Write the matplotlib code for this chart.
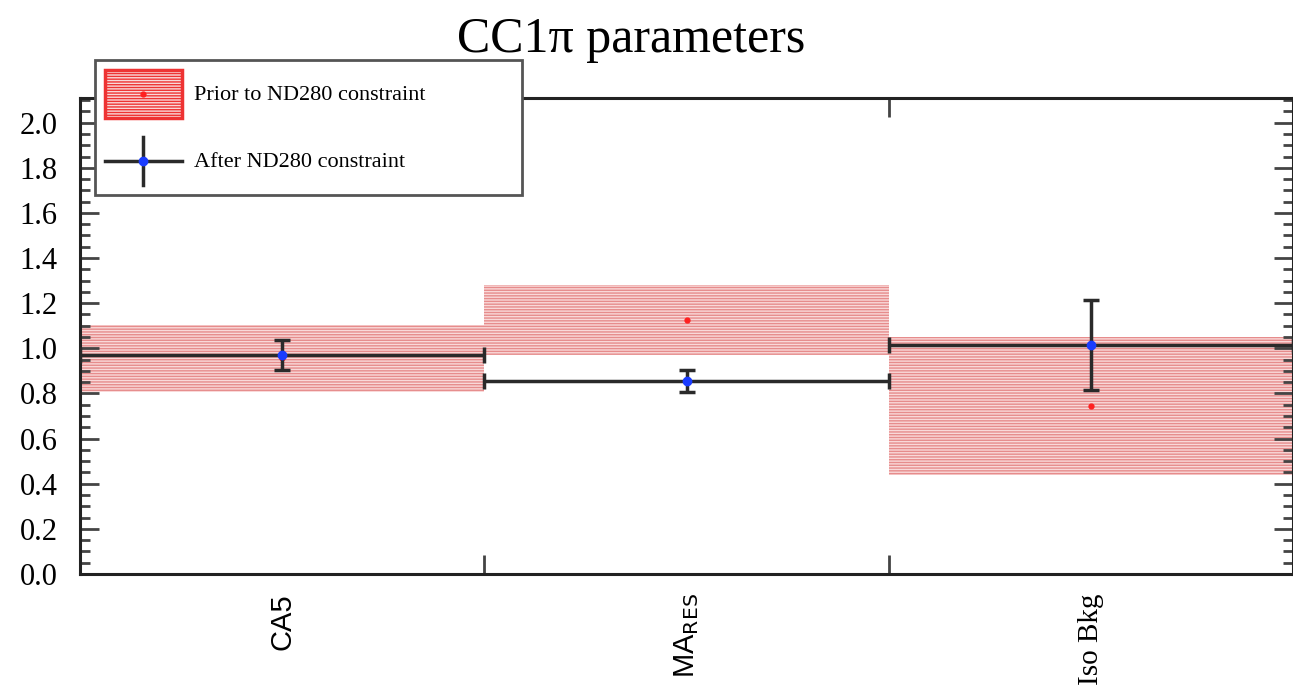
import matplotlib
matplotlib.use("Agg")
import matplotlib.pyplot as plt
from matplotlib.patches import Rectangle
from matplotlib.lines import Line2D
from matplotlib.legend_handler import HandlerBase
import numpy as np

categories = ["CA5", r"MA$_{\mathrm{RES}}$", "Iso Bkg"]
prior_val = [0.955, 1.125, 0.745]
prior_err = [0.147, 0.155, 0.305]
post_val = [0.97, 0.855, 1.015]
post_err = [0.065, 0.05, 0.20]
yticks = [0.0, 0.2, 0.4, 0.6, 0.8, 1.0, 1.2, 1.4, 1.6, 1.8, 2.0]

plt.rcParams['hatch.linewidth'] = 1.0

BAND_FACE = '#f9d9d9'
BAND_HATCH = '#e68c8c'

fig = plt.figure(figsize=(12.93, 6.89), dpi=100)
ax = fig.add_axes([0.0619, 0.167, 0.9381, 0.691])

n = len(categories)
x = np.arange(n) + 0.5
for i in range(n):
    r = Rectangle((i, prior_val[i] - prior_err[i]), 1.0, 2 * prior_err[i],
                  facecolor=BAND_FACE, edgecolor=BAND_HATCH, linewidth=0,
                  hatch='------', zorder=1)
    ax.add_patch(r)
ax.plot(x, prior_val, 'o', color='#ff2020', ms=3.5, zorder=2)

ax.errorbar(x, post_val, yerr=post_err, xerr=0.5, fmt='o', color='#2a2a2a',
            mfc='#1a3cff', mec='#1a3cff', ms=6, elinewidth=2.5, capsize=6,
            capthick=2.5, zorder=3)

ax.set_xlim(0, 3)
ax.set_ylim(0, 2.11)
ax.set_yticks(yticks)
ax.set_yticklabels([f"{v:.1f}" for v in yticks], fontfamily='Liberation Serif', fontsize=22)
ax.set_yticks(np.arange(0, 2.11, 0.05), minor=True)
ax.set_xticks([1, 2])
ax.set_xticklabels([])
ax.set_xticks(x, minor=True)
ax.set_xticklabels(categories, minor=True, rotation=90, fontsize=21, va='top')
xl = ax.get_xticklabels(minor=True)
xl[0].set_fontfamily('Liberation Sans')
xl[1].set_fontfamily('Liberation Sans')
xl[2].set_fontfamily('Liberation Serif')
ax.tick_params(axis='x', which='minor', length=0, pad=14)
ax.tick_params(axis='x', which='major', direction='in', length=14, width=2, top=True, color='#444444')
ax.tick_params(axis='y', which='major', direction='in', length=14, width=2, right=True,
               color='#444444', pad=16)
ax.tick_params(axis='y', which='minor', direction='in', length=7, width=2, right=True, color='#444444')
for s in ax.spines.values():
    s.set_linewidth(2.2)
    s.set_color('#222222')

fig.text(0.488, 0.942, "CC1\u03c0 parameters", ha='center', va='center',
         fontfamily='Liberation Serif', fontsize=36)


class PriorHandler(HandlerBase):
    def create_artists(self, legend, orig, xd, yd, w, h, fs, trans):
        x0, y0 = -xd, -yd
        r = Rectangle((x0, y0), w, h, facecolor=BAND_FACE, edgecolor='#ee3333',
                      linewidth=2.5, hatch='------', transform=trans)
        m = Line2D([x0 + w / 2], [y0 + h / 2], marker='o', color='#ff2020', ms=3.5,
                   transform=trans)
        return [r, m]


class ErrHandler(HandlerBase):
    def create_artists(self, legend, orig, xd, yd, w, h, fs, trans):
        x0, y0 = -xd, -yd
        cx, cy = x0 + w / 2, y0 + h / 2
        l1 = Line2D([x0, x0 + w], [cy, cy], color='#2a2a2a', lw=2.5, transform=trans)
        l2 = Line2D([cx, cx], [y0 + h * 0.0, y0 + h * 1.0], color='#2a2a2a', lw=2.5,
                    transform=trans)
        m = Line2D([cx], [cy], marker='o', color='#1a3cff', ms=6, transform=trans)
        return [l1, l2, m]


class PriorKey:
    pass


class PostKey:
    pass


leg = fig.legend([PriorKey(), PostKey()],
                 ["Prior to ND280 constraint", "After ND280 constraint"],
                 handler_map={PriorKey: PriorHandler(), PostKey: ErrHandler()},
                 loc='upper left', bbox_to_anchor=(0.0735, 0.913 - 0.196, 0.330, 0.196),
                 mode='expand',
                 prop={'family': 'Liberation Serif', 'size': 16},
                 handlelength=3.45, handleheight=2.95, labelspacing=0.85,
                 borderpad=0.45, handletextpad=0.55, frameon=True, fancybox=False,
                 framealpha=1.0, borderaxespad=0)
leg.get_frame().set_edgecolor('#555555')
leg.get_frame().set_linewidth(2)
leg.set_zorder(10)

fig.savefig("out.png", dpi=100)
